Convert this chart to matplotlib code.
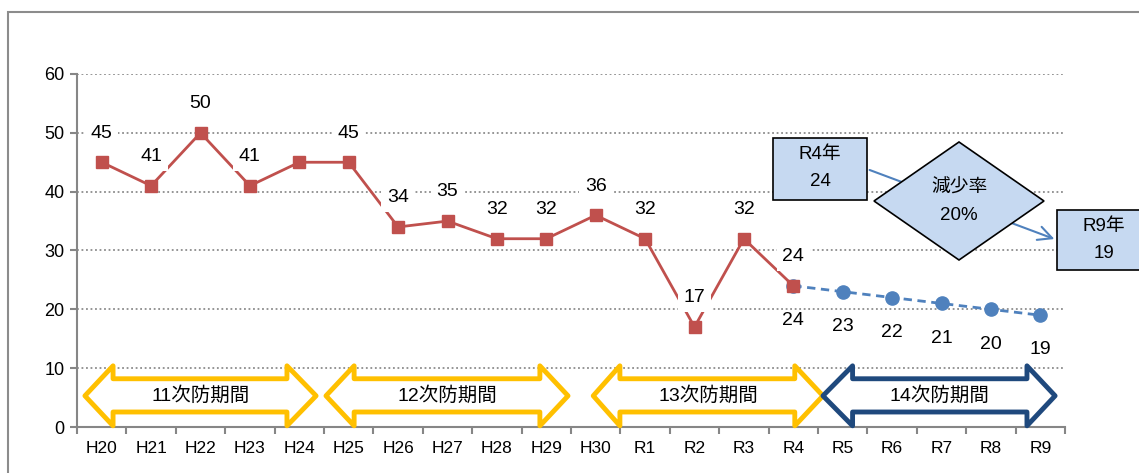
import matplotlib
matplotlib.use("Agg")
import matplotlib.pyplot as plt
from matplotlib.patches import Polygon, Rectangle, FancyArrowPatch

plt.rcParams['font.family'] = ['Liberation Sans', 'Noto Sans CJK JP', 'DejaVu Sans']

categories = ["H20", "H21", "H22", "H23", "H24", "H25", "H26", "H27", "H28", "H29",
              "H30", "R1", "R2", "R3", "R4", "R5", "R6", "R7", "R8", "R9"]
actual = [45, 41, 50, 41, 45, 45, 34, 35, 32, 32, 36, 32, 17, 32, 24]
actual_labels = ["45", "41", "50", "41", "", "45", "34", "35", "32", "32", "36", "32",
                 "17", "32", "24"]
target = [24, 23, 22, 21, 20, 19]  # R4..R9
periods = ["11次防期間", "12次防期間", "13次防期間", "14次防期間"]
y_ticks = [0, 10, 20, 30, 40, 50, 60]

W, H = 1139, 473
fig = plt.figure(figsize=(W / 100, H / 100), dpi=100)
ax = fig.add_axes([77 / W, 1 - 427 / H, (1065 - 77) / W, (427 - 74) / H])

RED = "#C0504D"
BLUE = "#4F81BD"
GRAY = "#868686"

# outer border
fig.patches.append(Rectangle((8 / W, -0.1), 1.2, 1 - 12 / H + 0.1, transform=fig.transFigure,
                             fill=False, edgecolor="#8C8C8C", linewidth=1.5, zorder=0))

x_act = list(range(len(actual)))
x_tar = list(range(len(actual) - 1, len(actual) - 1 + len(target)))

ax.plot(x_tar, target, color=BLUE, linestyle=(0, (3, 2)), linewidth=2, marker="o",
        markersize=9.5, zorder=4)
ax.plot(x_act, actual, color=RED, linewidth=2, marker="s", markersize=8.5, zorder=5)

for x, v, lab in zip(x_act, actual, actual_labels):
    if not lab:
        continue
    ax.annotate(lab, (x, v), xytext=(0, 21), textcoords="offset points", ha="center",
                va="center", fontsize=14, zorder=6,
                bbox=dict(boxstyle="square,pad=0.3", fc="white", ec="none"))
for x, v in zip(x_tar, target):
    ax.annotate(str(v), (x, v), xytext=(0, -25), textcoords="offset points", ha="center",
                va="center", fontsize=14, zorder=6)

ax.set_xlim(-0.5, len(categories) - 0.5)
ax.set_ylim(0, 60)
ax.set_yticks(y_ticks)
ax.set_xticks(range(len(categories)))
ax.set_xticklabels(categories)
ax.set_xticks([i - 0.5 for i in range(len(categories) + 1)], minor=True)
ax.tick_params(axis="x", which="major", length=0, labelsize=12.5, pad=10)
ax.tick_params(axis="x", which="minor", length=5, color=GRAY, width=1.5)
ax.tick_params(axis="y", length=5, color=GRAY, width=1.5, labelsize=13, pad=4)
for s in ["top", "right"]:
    ax.spines[s].set_visible(False)
for s in ["left", "bottom"]:
    ax.spines[s].set_color(GRAY)
    ax.spines[s].set_linewidth(1.5)
ax.grid(axis="y", color="#8C8C8C", linestyle=(0, (1, 1.5)), linewidth=1.3)
ax.set_axisbelow(True)

# period double arrows (left tip, left head base, right head base, right tip)
spans = [(-0.34, 0.23, 3.75, 4.34), (4.54, 5.11, 8.87, 9.44),
         (9.95, 10.49, 14.03, 14.6), (14.6, 15.2, 18.73, 19.3)]
colors = ["#FFC000", "#FFC000", "#FFC000", "#1F497D"]
yc, ht, hb, st, sb = 5.3, 10.4, 0.2, 8.2, 2.55
for (tl, bl, br, tr), c, lab in zip(spans, colors, periods):
    pts = [(tl, yc), (bl, ht), (bl, st), (br, st), (br, ht), (tr, yc),
           (br, hb), (br, sb), (bl, sb), (bl, hb)]
    ax.add_patch(Polygon(pts, closed=True, fc="white", ec=c, lw=3.5, joinstyle="round",
                         clip_on=False, zorder=3))
    ax.text((tl + tr) / 2, yc, lab, ha="center", va="center", fontsize=14, zorder=3.5)

# annotation shapes (figure pixel positions)
def fp(x, y):
    return (x / W, 1 - y / H)

BOXC = "#C6D9F1"
arr = FancyArrowPatch(fp(867, 169), fp(1057, 240), transform=fig.transFigure,
                      arrowstyle="->,head_length=10,head_width=5", color=BLUE, lw=1.5,
                      mutation_scale=1, zorder=10)
fig.patches.append(arr)
x0, y0 = fp(773, 200)
x1, y1 = fp(867, 138)
fig.patches.append(Rectangle((x0, y0), x1 - x0, y1 - y0, transform=fig.transFigure,
                             fc=BOXC, ec="black", lw=1.2, zorder=11))
fig.text(*fp(820, 168), "R4年\n24", ha="center", va="center", fontsize=13.5,
         linespacing=1.8, zorder=12)
fig.patches.append(Polygon([fp(874, 201), fp(959, 142), fp(1044, 201), fp(959, 260)],
                           closed=True, transform=fig.transFigure, fc=BOXC, ec="black",
                           lw=1.2, zorder=11))
fig.text(*fp(959, 202), "減少率\n20%", ha="center", va="center", fontsize=13.5,
         linespacing=1.8, zorder=12)
x0, y0 = fp(1057, 270)
x1, y1 = fp(1150, 210)
fig.patches.append(Rectangle((x0, y0), x1 - x0, y1 - y0, transform=fig.transFigure,
                             fc=BOXC, ec="black", lw=1.2, zorder=11))
fig.text(*fp(1104, 240), "R9年\n19", ha="center", va="center", fontsize=13.5,
         linespacing=1.8, zorder=12)

fig.savefig("out.png", dpi=100)
